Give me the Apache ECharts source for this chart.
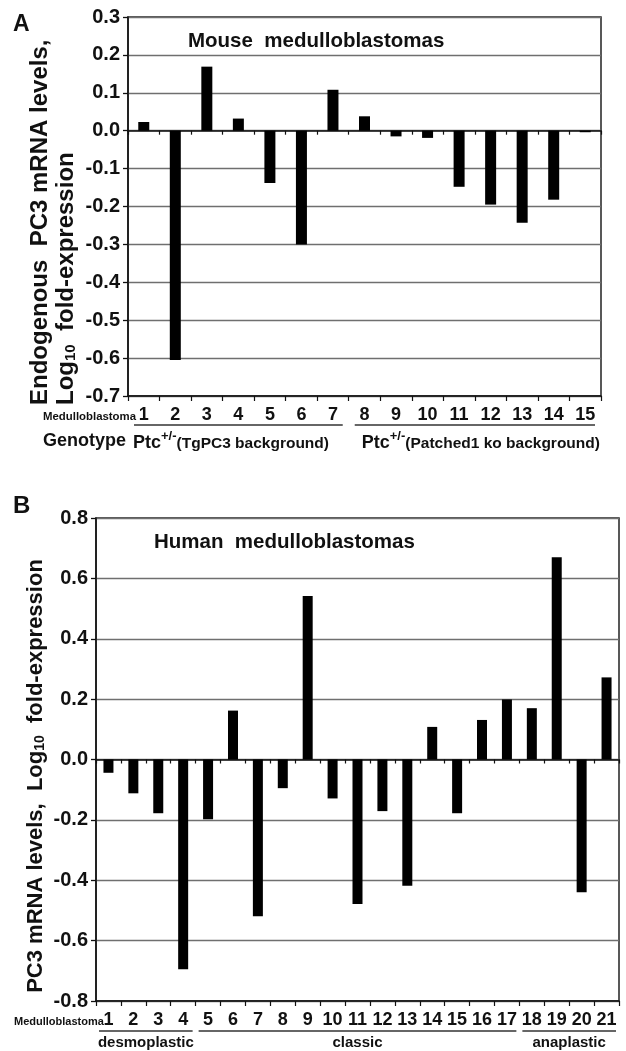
<!DOCTYPE html>
<html><head><meta charset="utf-8">
<script src="https://cdn.jsdelivr.net/npm/echarts@6/dist/echarts.min.js"></script>
<style>html,body{margin:0;padding:0;background:#fff}#c{width:626px;height:1051px}</style>
</head><body><div id="c"></div>
<script>
// ---- Panel A : mouse medulloblastomas ----
const mouseCategories = ['1','2','3','4','5','6','7','8','9','10','11','12','13','14','15'];
const mouseValues = [0.023,-0.605,0.169,0.032,-0.138,-0.300,0.108,0.038,-0.015,-0.019,-0.148,-0.195,-0.243,-0.182,-0.004];
const mouseTicks = [-0.7,-0.6,-0.5,-0.4,-0.3,-0.2,-0.1,0.0,0.1,0.2,0.3];
const mouseGroupStarts = [0, 7];
const mouseGroupEnds = [6, 14];
const mouseGroupPrefix = ['Ptc', 'Ptc'];
const mouseGroupLabels = ['(TgPC3 background)', '(Patched1 ko background)'];

// ---- Panel B : human medulloblastomas ----
const humanCategories = ['1','2','3','4','5','6','7','8','9','10','11','12','13','14','15','16','17','18','19','20','21'];
const humanValues = [-0.044,-0.112,-0.178,-0.695,-0.198,0.162,-0.519,-0.095,0.542,-0.129,-0.479,-0.171,-0.418,0.108,-0.178,0.131,0.199,0.170,0.670,-0.440,0.272];
const humanTicks = [-0.8,-0.6,-0.4,-0.2,0.0,0.2,0.4,0.6,0.8];
const humanGroupLabels = ['desmoplastic','classic','anaplastic'];
const humanGroupStarts = [0, 4, 17];
const humanGroupEnds = [3, 16, 20];

const FONT = '"Liberation Sans", Arial, Helvetica, sans-serif';
const INK = '#111';
const chart = echarts.init(document.getElementById('c'), null, {renderer:'canvas'});

function fmt(v){ return Math.abs(v) < 1e-9 ? '0.0' : v.toFixed(1); }

function yAxisFor(ticks, gridIndex){
  return {
    type:'value', gridIndex,
    min: ticks[0], max: ticks[ticks.length-1],
    interval: Math.round((ticks[1]-ticks[0])*10)/10,
    axisLine:{show:true, lineStyle:{color:INK, width:1.5}},
    axisTick:{show:true, length:5, lineStyle:{color:INK, width:1.3}},
    axisLabel:{formatter: fmt, color:INK, fontFamily:FONT, fontWeight:'bold', fontSize:20, margin:8},
    splitLine:{show:true, lineStyle:{color:'#6f6f6f', width:1.3}}
  };
}
function xAxesFor(cats, gridIndex){
  return [
    { type:'category', gridIndex, data:cats, position:'bottom',
      axisLine:{onZero:true, lineStyle:{color:INK, width:1.5}},
      axisTick:{show:true, length:4, lineStyle:{color:INK, width:1.2}},
      axisLabel:{show:false}, splitLine:{show:false} },
    { type:'category', gridIndex, data:cats, position:'bottom',
      axisLine:{onZero:false, lineStyle:{color:INK, width:1.5}},
      axisTick:{show:true, length:5, lineStyle:{color:INK, width:1.2}},
      axisLabel:{show:true, color:INK, fontFamily:FONT, fontWeight:'bold', fontSize:18, margin:10, interval:0},
      splitLine:{show:false} }
  ];
}

chart.setOption({
  animation:false,
  backgroundColor:'#fff',
  grid:[
    {left:128, top:17, width:473, height:379, show:true, borderColor:'#222', borderWidth:1.5, backgroundColor:'transparent'},
    {left:96, top:518, width:523, height:483, show:true, borderColor:'#222', borderWidth:1.5, backgroundColor:'transparent'}
  ],
  xAxis: xAxesFor(mouseCategories,0).concat(xAxesFor(humanCategories,1)),
  yAxis:[ yAxisFor(mouseTicks,0), yAxisFor(humanTicks,1) ],
  series:[
    {type:'bar', xAxisIndex:0, yAxisIndex:0, data:mouseValues, barWidth:11, itemStyle:{color:'#000'}},
    {type:'bar', xAxisIndex:2, yAxisIndex:1, data:humanValues, barWidth:10, itemStyle:{color:'#000'}}
  ]
});

// ---- annotations ----
function slotEdges(axisIndex, cats, i){
  const c = chart.convertToPixel({xAxisIndex:axisIndex}, cats[i]);
  const c0 = chart.convertToPixel({xAxisIndex:axisIndex}, cats[0]);
  const c1 = chart.convertToPixel({xAxisIndex:axisIndex}, cats[1]);
  const w = c1 - c0;
  return [c - w/2, c + w/2];
}
const g = [];
const bold = (size) => 'bold ' + size + 'px ' + FONT;

// Panel letters & titles
g.push({type:'text', x:13, y:25, style:{text:'A', font:bold(23), fill:INK, verticalAlign:'middle'}});
g.push({type:'text', x:188, y:41, style:{text:'Mouse  medulloblastomas', font:bold(20.5), fill:INK, verticalAlign:'middle'}});
g.push({type:'text', x:13, y:506, style:{text:'B', font:bold(24), fill:INK, verticalAlign:'middle'}});
g.push({type:'text', x:154, y:542, style:{text:'Human  medulloblastomas', font:bold(20.5), fill:INK, verticalAlign:'middle'}});

// Y axis titles
g.push({type:'text', x:40, y:405, rotation:Math.PI/2,
  style:{text:'Endogenous  PC3 mRNA levels,', font:bold(24), fill:INK, align:'left', verticalAlign:'middle'}});
g.push({type:'text', x:65, y:405, rotation:Math.PI/2,
  style:{text:'{m|Log}{s|10}{m|  fold-expression}', fill:INK, align:'left', verticalAlign:'middle',
    rich:{m:{font:bold(24), fill:INK, verticalAlign:'bottom', lineHeight:26},
          s:{font:bold(15), fill:INK, verticalAlign:'bottom', lineHeight:22}}}});
g.push({type:'text', x:35, y:776, rotation:Math.PI/2,
  style:{text:'{m|PC3 mRNA levels,  Log}{s|10}{m|  fold-expression}', fill:INK, align:'center', verticalAlign:'middle',
    rich:{m:{font:bold(22), fill:INK, verticalAlign:'bottom', lineHeight:24},
          s:{font:bold(14), fill:INK, verticalAlign:'bottom', lineHeight:20}}}});

// "Medulloblastoma" row labels
g.push({type:'text', x:43, y:417, style:{text:'Medulloblastoma', font:bold(11.4), fill:INK, verticalAlign:'middle'}});
g.push({type:'text', x:14, y:1022, style:{text:'Medulloblastoma', font:bold(11), fill:INK, verticalAlign:'middle'}});

// Panel A group underlines + genotype labels
g.push({type:'text', x:43, y:441, style:{text:'Genotype', font:bold(18), fill:INK, verticalAlign:'middle'}});
for (let k=0;k<mouseGroupStarts.length;k++){
  const a = slotEdges(1, mouseCategories, mouseGroupStarts[k])[0] + 6;
  const b = slotEdges(1, mouseCategories, mouseGroupEnds[k])[1] - 6;
  g.push({type:'line', shape:{x1:a, y1:425, x2:b, y2:425}, style:{stroke:'#333', lineWidth:1.3}});
  g.push({type:'text', x: k===0 ? a-1 : a+7, y:441,
    style:{text:'{p|'+mouseGroupPrefix[k]+'}{u|+/-}{q|'+mouseGroupLabels[k]+'}', fill:INK, verticalAlign:'middle',
      rich:{p:{font:bold(18), fill:INK, verticalAlign:'bottom', lineHeight:22},
            u:{font:bold(13), fill:INK, verticalAlign:'top', lineHeight:22},
            q:{font:bold(15.5), fill:INK, verticalAlign:'bottom', lineHeight:21}}}});
}
// Panel B group underlines + labels
for (let k=0;k<humanGroupLabels.length;k++){
  const a = slotEdges(3, humanCategories, humanGroupStarts[k])[0] + 3;
  const b = slotEdges(3, humanCategories, humanGroupEnds[k])[1] - 3;
  g.push({type:'line', shape:{x1:a, y1:1031, x2:b, y2:1031}, style:{stroke:'#333', lineWidth:1.3}});
  g.push({type:'text', x:(a+b)/2, y:1043, style:{text:humanGroupLabels[k], font:bold(15), fill:INK, align:'center', verticalAlign:'middle'}});
}
chart.setOption({graphic:g});
</script></body></html>
